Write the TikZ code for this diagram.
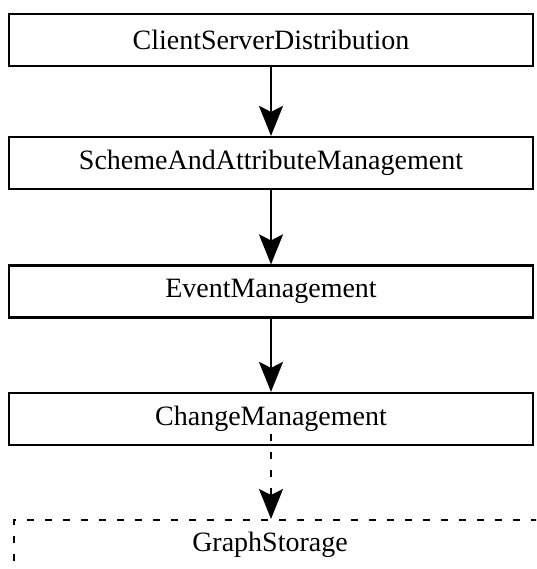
\documentclass[tikz,border=0pt]{standalone}
\usepackage{fontspec}
\setmainfont{Liberation Serif}
\usetikzlibrary{arrows.meta}
\begin{document}
\begin{tikzpicture}[x=1pt,y=-1pt,
  layer/.style={draw, line width=2.2pt, minimum width=524pt, minimum height=52pt,
    inner sep=0pt, font=\fontsize{28}{32}\selectfont},
  dep/.style={line width=2pt, -{Stealth[length=30pt,width=24pt,inset=6pt]}},
  weakdep/.style={dep, dash pattern=on 7pt off 11pt}]
  \useasboundingbox (0,0) rectangle (536,569);
  \clip (0,0) rectangle (536,569);

  \node[layer] (csd) at (271,40)  {ClientServerDistribution};
  \node[layer] (sam) at (271,163) {SchemeAndAttributeManagement};
  \node[layer] (evm) at (271,291.5) {EventManagement};
  \node[layer] (chm) at (271,419) {ChangeManagement};

  % storage layer, partly outside the visible area
  \node[draw, line width=2.2pt, dash pattern=on 7pt off 11pt, anchor=north west,
    minimum width=600pt, minimum height=80pt] (gsbox) at (13,519) {};
  \node[font=\fontsize{28}{32}\selectfont] (gs) at (270,545) {GraphStorage};

  \draw[dep] (csd) -- (sam);
  \draw[dep] (sam) -- (evm);
  \draw[dep] (evm) -- (chm);
  \draw[weakdep] ([yshift=12pt]chm.south) -- (chm.south |- gsbox.north);
\end{tikzpicture}
\end{document}
